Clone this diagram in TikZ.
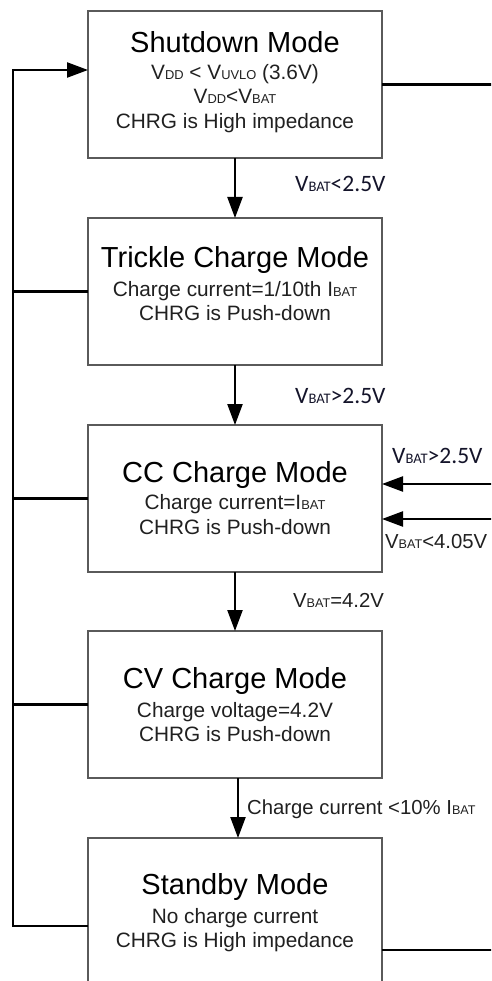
\documentclass[tikz,border=0pt]{standalone}
\usepackage{fontspec}
\setmainfont{Liberation Sans}
\newfontfamily\calibfont{Carlito}
\usepackage{graphicx}
\usetikzlibrary{arrows.meta,calc}
\definecolor{boxgray}{HTML}{5A5A5A}
\definecolor{txtgray}{HTML}{202020}
\definecolor{lblblue}{HTML}{14142A}
\newcommand{\subsc}[1]{\scalebox{0.62}{#1}}
\tikzset{
 modebox/.style={draw=boxgray, line width=1.3pt, minimum width=294pt, minimum height=147pt, inner sep=0pt, outer sep=0pt},
 ttl/.style={anchor=base, font=\fontsize{29}{31}\selectfont, text=black, inner sep=0pt},
 bodytxt/.style={anchor=base, font=\fontsize{20.8}{22}\selectfont, text=txtgray, inner sep=0pt},
 lbl/.style={anchor=base west, font=\fontsize{20.3}{22}\selectfont, text=txtgray, inner sep=0pt},
 clbl/.style={anchor=base west, font=\calibfont\fontsize{23.5}{25}\selectfont, text=lblblue, inner sep=0pt},
 conn/.style={line width=2.3pt, line join=miter},
 arr/.style={conn, -{Triangle[length=21pt,width=15pt]}},
}
\begin{document}
\begin{tikzpicture}[x=1pt,y=-1pt]
\useasboundingbox (0,0) rectangle (491,981);
\clip (0,0) rectangle (491,981);
% boxes
\node[modebox] (shut) at (235,84.5) {};
\node[modebox] (tric) at (235,291.5) {};
\node[modebox] (cc) at (235,498.5) {};
\node[modebox] (cv) at (235,704.5) {};
\node[modebox, minimum height=162pt] (stby) at (235,919) {};
% box texts
\node[ttl] (t1) at (235,53) {Shutdown Mode};
\node[bodytxt] (t1a) at (235,80) {V\subsc{DD} < V\subsc{UVLO} (3.6V)};
\node[bodytxt] (t1b) at (235,104) {V\subsc{DD}<V\subsc{BAT}};
\node[bodytxt] (t1c) at (235,129) {CHRG is High impedance};
\node[ttl] (t2) at (235,268) {Trickle Charge Mode};
\node[bodytxt] (t2a) at (235,296) {Charge current=1/10th I\subsc{BAT}};
\node[bodytxt] (t2b) at (235,320) {CHRG is Push-down};
\node[ttl] (t3) at (235,482) {CC Charge Mode};
\node[bodytxt] (t3a) at (235,509) {Charge current=I\subsc{BAT}};
\node[bodytxt] (t3b) at (235,534) {CHRG is Push-down};
\node[ttl] (t4) at (235,688) {CV Charge Mode};
\node[bodytxt] (t4a) at (235,717) {Charge voltage=4.2V};
\node[bodytxt] (t4b) at (235,741) {CHRG is Push-down};
\node[ttl] (t5) at (235,894) {Standby Mode};
\node[bodytxt] (t5a) at (235,923) {No charge current};
\node[bodytxt] (t5b) at (235,947) {CHRG is High impedance};
% vertical transitions
\draw[arr] (shut.south) -- (tric.north);
\draw[arr] (tric.south) -- (cc.north);
\draw[arr] (cc.south) -- (cv.north);
\draw[arr] ($(cv.south)+(3,0)$) -- ($(stby.north)+(3,0)$);
% labels
\node[clbl] (l1) at (295,192) {V\subsc{BAT}<2.5V};
\node[clbl] (l2) at (295,403) {V\subsc{BAT}>2.5V};
\node[clbl] (l3) at (392,463) {V\subsc{BAT}>2.5V};
\node[lbl] (l4) at (385,548) {V\subsc{BAT}<4.05V};
\node[lbl] (l5) at (293,607) {V\subsc{BAT}=4.2V};
\node[lbl] (l6) at (247,814) {Charge current <10\% I\subsc{BAT}};
% left return bus
\coordinate (stbyL) at ($(stby.north west)+(0,88)$);
\coordinate (shutL) at ($(shut.north west)+(0,59)$);
\coordinate (busB) at (13,926);
\coordinate (busT) at (13,70);
\draw[arr] (stbyL) -- (busB) -- (busT) -- (shutL);
\draw[conn] (tric.west) -- (busB |- tric.west);
\draw[conn] (cc.west) -- (busB |- cc.west);
\draw[conn] (cv.west) -- (busB |- cv.west);
% right side
\coordinate (redge) at (496,0);
\coordinate (stbyR) at ($(stby.north east)+(0,112)$);
\coordinate (ccA) at ($(cc.east)+(0,-14.5)$);
\coordinate (ccB) at ($(cc.east)+(0,20.5)$);
\draw[conn] (shut.east) -- (redge |- shut.east);
\draw[conn] (stbyR) -- (redge |- stbyR);
\draw[arr] (redge |- ccA) -- (ccA);
\draw[arr] (redge |- ccB) -- (ccB);
\end{tikzpicture}
\end{document}
